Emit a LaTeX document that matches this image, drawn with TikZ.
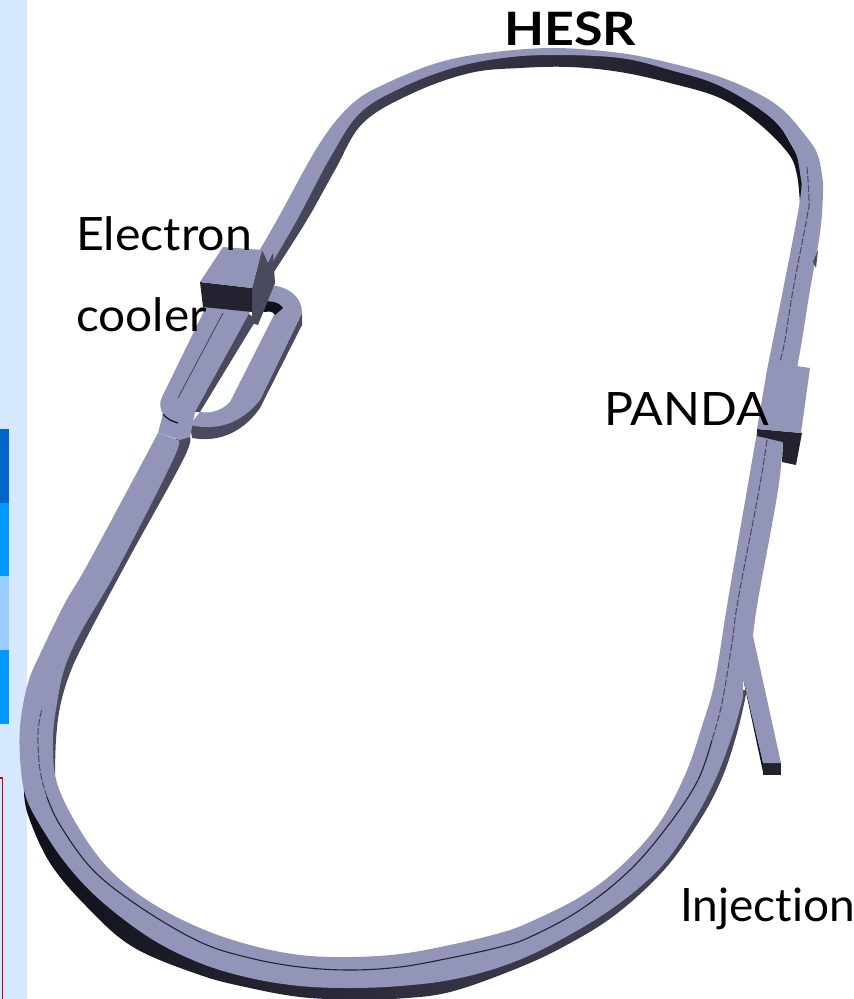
\documentclass[tikz,border=0pt]{standalone}
\usepackage{fontspec}
\setmainfont[Ligatures=NoCommon]{Lato}
\definecolor{panel}{HTML}{D5E8FF}
\definecolor{barA}{HTML}{0066CC}
\definecolor{barB}{HTML}{0099FF}
\definecolor{barC}{HTML}{99CCFF}
\definecolor{surf}{HTML}{9294B8}
\definecolor{wall}{HTML}{10101A}
\definecolor{slate}{HTML}{4A4A5E}
\definecolor{front}{HTML}{23232F}
\tikzset{
  surface/.style={fill=surf},
  blackwall/.style={fill=wall},
  sidewall/.style={fill=slate},
  frontwall/.style={fill=front},
  midsolid/.style={draw=front,line width=1.1pt},
  middash/.style={draw=slate,line width=1pt,dash pattern=on 7pt off 2pt},
  label/.style={anchor=base west,inner sep=0pt,text=black,font=\fontsize{46}{46}\selectfont},
  smoothline/.style={smooth,tension=.6}
}
\begin{document}
\begin{tikzpicture}[x=1pt,y=-1pt]
\useasboundingbox (0,0) rectangle (854,999);
\fill[white] (0,0) rectangle (854,999);
% left page remnants
\fill[panel] (0,0) rectangle (27,999);
\fill[barA] (0,429) rectangle (9,503);
\fill[barB] (0,503) rectangle (9,576);
\fill[barC] (0,576) rectangle (9,650);
\fill[barB] (0,650) rectangle (9,724);
\draw[red!85!black,line width=1.2pt] (0,778) -- (2.5,778) -- (2.5,999);

% dark wall: bottom of the ring
\shade[left color=wall,middle color=front,right color=slate] plot[smoothline] coordinates {(24,790) (28,815) (50,863) (87,907) (133,947) (200,975) (250,988) (300,997) (350,999.5) (400,998.5) (450,992) (513,970) (563,947) (615,915) (664,870) (700,820) (722,778) (737,733) (747,690)}
  -- plot[smoothline] coordinates {(725,690) (700,760) (660,840) (580,920) (450,970) (350,980) (200,955) (100,890) (24,790)} -- cycle;
% dark wall: top arc
\shade[left color=slate,middle color=front,right color=wall] plot[smoothline] coordinates {(272,275) (307,220) (335,170) (363,123) (413,93) (470,73) (520,68) (570,67) (620,72) (670,83) (720,98) (757,122) (788,153) (797,175) (800,205)}
  -- plot[smoothline] coordinates {(815,190) (770,112) (720,82) (620,56) (553,52) (453,66) (403,86) (360,110) (328,158) (295,220) (268,270)} -- cycle;
% dark edge along lower-left straight
\fill[sidewall] plot[smoothline] coordinates {(190,437) (183,460) (128,560) (87,637) (70,673) (60,707) (56,740) (55,775)}
  -- plot[smoothline] coordinates {(45,775) (52,720) (70,640) (170,450) (178,432)} -- cycle;
\fill[wall] (743,678) -- (747,690) -- (767,772) -- (763,772) -- cycle;
% loop walls
\fill[sidewall] (190,425) -- (192,438) .. controls (215,442) and (240,436) .. (260,408) -- (302,325) -- (302,313) -- (260,400) -- cycle;
\fill[sidewall] (248,313) -- (256,320) -- (200,412) -- (192,412) -- cycle;
% injection end
\fill[frontwall] (763,763) -- (781,763) -- (781,775) -- (763,775) -- cycle;

% top surface: upper section
\fill[surface] plot[smoothline] coordinates {(255,258) (277,220) (320,143) (353,103) (387,83) (437,63) (487,53) (553,48) (620,53) (670,63) (720,77) (757,93) (783,110) (805,135) (817,153) (822,175) (823,193) (820,233) (810,290) (802,340) (797,368)}
  -- plot[smoothline] coordinates {(767,370) (773,340) (783,290) (800,200) (800,173) (793,147) (770,117) (720,86) (670,70) (620,58) (553,55) (503,58) (453,68) (403,87) (360,113) (330,158) (297,220) (265,275)} -- cycle;
% top surface: lower section
\fill[surface] plot[smoothline] coordinates {(783,438) (778,490) (758,600) (753,636)}
  -- (781,763) -- (763,763) -- (743,678)
  -- plot[smoothline] coordinates {(743,697) (733,733) (716,778) (694,820) (660,868) (610,910) (547,947) (500,967) (450,980) (400,986) (350,988) (300,986) (250,978) (200,963) (150,938) (100,900) (67,865) (43,830) (27,800) (21,770) (20,727) (28,683) (42,650) (65,603) (90,560) (158,433)}
  -- plot[smoothline] coordinates {(178,440) (173,460) (117,570) (82,630) (65,667) (57,703) (53,740) (57,783) (80,830) (110,870) (150,902) (200,928) (250,945) (300,955) (350,957) (400,954) (450,945) (500,933) (530,922) (580,897) (620,867) (658,825) (685,775) (703,723) (715,680) (728,600) (747,490) (757,432)} -- cycle;
% top surface: cooler bypass
\fill[surface] (207,305) -- (162,397) .. controls (159,403) and (160,409) .. (163,414) -- (158,433) -- (180,440) -- (190,437) -- (195,412) -- (252,308) -- cycle;
\fill[surface] (190,425) .. controls (215,431) and (240,425) .. (260,400) -- (302,313) .. controls (302,298) and (290,286) .. (268,285) -- (262,302)
  .. controls (272,302) and (280,306) .. (275,313) -- (230,402) .. controls (222,410) and (212,414) .. (200,412) -- cycle;
% hole crescent and arcs in the bypass
\fill[blackwall] (262,302) .. controls (272,300) and (280,303) .. (283,308) -- (275,315) .. controls (272,310) and (268,312) .. (263,312) -- cycle;
\draw[draw=wall,line width=1.2pt] (163,414) .. controls (168,420) and (172,421) .. (178,423);
\draw[draw=slate,line width=.9pt] (223,313) -- (178,398);

% centre line
\path[midsolid] plot[smoothline] coordinates {(712,740) (698,780) (670,823) (630,870) (580,910) (530,937) (500,947) (450,958) (400,967) (350,970) (300,967) (250,958) (200,942) (140,907) (93,870) (60,825) (47,797)};
\path[middash] plot[smoothline] coordinates {(47,797) (40,770) (38,733) (42,708)};
\path[middash] plot[smoothline] coordinates {(767,440) (759,490) (738,600) (732,643) (722,703) (712,740)};
\path[middash] plot[smoothline] coordinates {(807,167) (809,200) (807,217) (793,290) (785,340) (780,362)};
\fill[sidewall] (813,262) -- (818,250) -- (816,268) -- cycle;

% electron cooler box
\fill[sidewall] (252,288) -- (262,250) -- (268,263) -- (273,253) -- (275,283) -- (258,325) -- (252,323) -- cycle;
\fill[frontwall] (200,282) -- (252,288) -- (252,312) -- (203,307) -- cycle;
\fill[surface] (223,247) -- (262,250) -- (252,288) -- (200,282) -- cycle;

% PANDA box
\fill[frontwall] (757,429) -- (802,433) -- (796,465) -- (782,462) -- (783,442) -- (757,436) -- cycle;
\fill[surface] (767,370) -- (797,366) -- (810,368) -- (801,433) -- (757,429) -- cycle;

% labels
\node[label,font=\fontsize{46}{46}\selectfont\bfseries\addfontfeature{FakeStretch=1.13}] (hesr) at (504,45) {HESR};
\node[label,font=\fontsize{46}{46}\selectfont\addfontfeature{FakeStretch=1.05}] (electron) at (76,250) {Electron};
\node[label,font=\fontsize{46}{46}\selectfont\addfontfeature{FakeStretch=1.04}] (cooler) at (76,331) {cooler};
\node[label,font=\fontsize{46}{46}\selectfont\addfontfeature{FakeStretch=1.05}] (panda) at (604,425) {PANDA};
\node[label] (injection) at (680,921) {Injection};
\end{tikzpicture}
\end{document}
